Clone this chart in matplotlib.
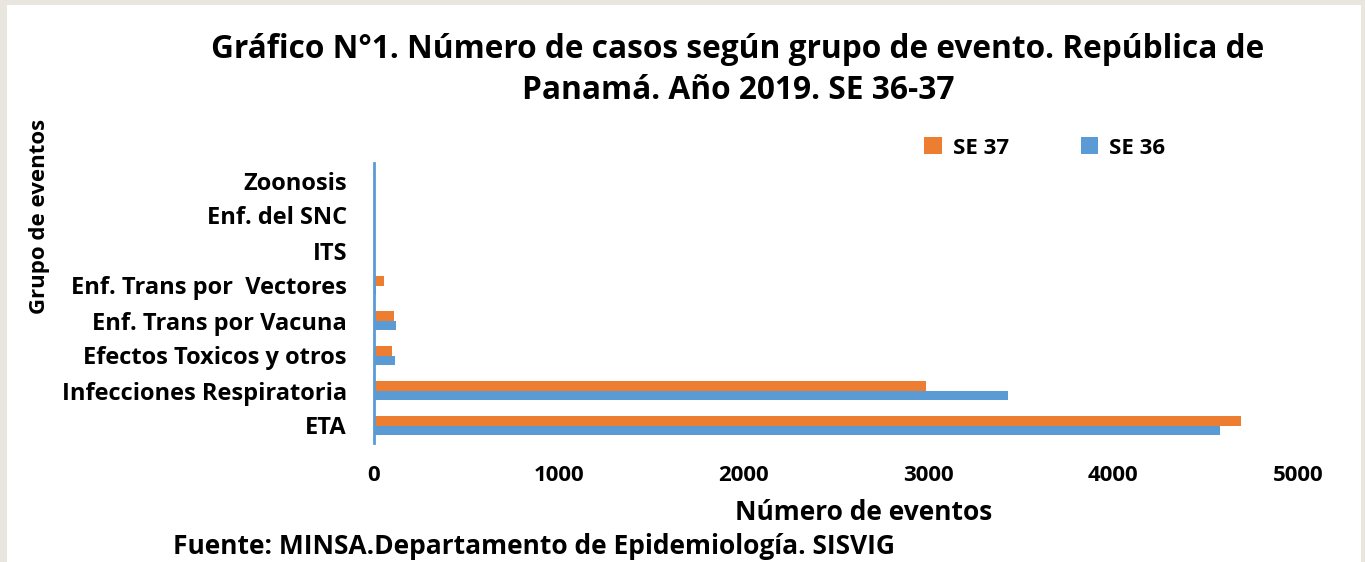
import matplotlib.pyplot as plt
from matplotlib.patches import Rectangle
import numpy as np

plt.rcParams['font.family'] = ['Open Sans', 'DejaVu Sans']
plt.rcParams['font.weight'] = 'bold'

# datos
grupos = ['ETA', 'Infecciones Respiratoria', 'Efectos Toxicos y otros',
          'Enf. Trans por Vacuna', 'Enf. Trans por  Vectores', 'ITS',
          'Enf. del SNC', 'Zoonosis']
se36 = [4576, 3429, 114, 117, 12, 6, 1, 1]
se37 = [4692, 2989, 97, 110, 56, 1, 0, 0]

naranja = '#ed7d31'
azul = '#5b9bd5'

fig = plt.figure(figsize=(13.65, 5.62), dpi=100)
fig.patch.set_facecolor('#e8e6df')
# marco blanco
fig.patches.append(Rectangle((7 / 1365, 0), 1354 / 1365, 557 / 562,
                             transform=fig.transFigure, facecolor='white',
                             edgecolor='none', zorder=-10))

ax = fig.add_axes([374 / 1365, 119 / 562, 924 / 1365, 280 / 562])
ax.set_zorder(2)
ax.set_facecolor('none')

y = np.arange(len(grupos))
h = 0.266
ax.barh(y + h / 2, se37, height=h, color=naranja, label='SE 37')
ax.barh(y - h / 2, se36, height=h, color=azul, label='SE 36')

ax.set_xlim(0, 5000)
ax.set_ylim(-0.5, len(grupos) - 0.5)
ax.set_xticks(range(0, 5001, 1000))
ax.set_yticks(y)
ax.set_yticklabels(grupos, fontsize=17, fontweight='bold')
ax.tick_params(axis='x', labelsize=16, length=0, pad=16)
ax.tick_params(axis='y', length=0, pad=19.5)
for lbl in ax.get_xticklabels():
    lbl.set_fontweight('bold')

for s in ['top', 'right', 'bottom']:
    ax.spines[s].set_visible(False)
ax.spines['left'].set_color(azul)
ax.spines['left'].set_linewidth(2)

fig.text(864 / 1365, 1 - 513 / 562, 'Número de eventos', fontsize=19,
         fontweight='bold', ha='center', va='center')
fig.text(40 / 1365, 1 - 216 / 562, 'Grupo de eventos', rotation=90,
         fontsize=16, fontweight='bold', ha='center', va='center')

fig.text(738 / 1365, 1 - 70 / 562,
         'Gráfico N°1. Número de casos según grupo de evento. República de\nPanamá. Año 2019. SE 36-37',
         fontsize=22.8, fontweight='bold', ha='center', va='center',
         linespacing=1.35)

fig.text(173 / 1365, 1 - 547 / 562,
         'Fuente: MINSA.Departamento de Epidemiología. SISVIG',
         fontsize=19, fontweight='bold', ha='left', va='center')

ax.legend(loc='center', bbox_to_anchor=((1045 - 374) / 924, (443 - 148) / 280),
          ncol=2, frameon=False, handlelength=0.8,
          handleheight=0.8, columnspacing=3.2, handletextpad=0.5,
          prop={'weight': 'bold', 'size': 16})

fig.savefig('out.png', dpi=100)
